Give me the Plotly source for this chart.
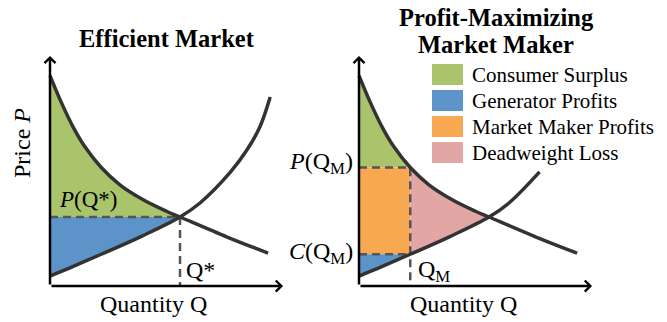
import plotly.graph_objects as go

# ---------------- data (arbitrary units) ----------------
demand_q = [0, 0.5, 1.0, 1.5, 2.2, 3.0, 4.0, 5.0, 5.58, 7.6, 9.36]
demand_p = [9.15, 7.95, 6.9, 6.05, 5.15, 4.4, 3.75, 3.25, 3.0, 2.13, 1.43]
supply_q = [0, 1.0, 2.2, 3.9, 5.58, 6.45, 7.75, 8.45, 9.0, 9.45]
supply_p = [0.43, 0.85, 1.38, 2.15, 3.0, 3.62, 4.96, 5.91, 6.9, 8.22]
q_star, p_star = 5.58, 3.0          # efficient equilibrium
q_m, p_m, c_m = 2.2, 5.15, 1.38     # market-maker quantity, price, cost
supply_end_right = 7.75             # supply curve is drawn shorter in the right panel
axis_max = 10

legend_labels = ["Consumer Surplus", "Generator Profits", "Market Maker Profits", "Deadweight Loss"]
legend_colors = ["#A9C46B", "#5C93C9", "#F9A852", "#E2A6A5"]
GREEN, BLUE, ORANGE, PINK = legend_colors

CURVE = "#333333"
DASH = "#555555"
FONT = "Liberation Serif, Times New Roman, serif"
W, H = 667, 322


def seg(qs, ps, lo, hi):
    pts = [(q, p) for q, p in zip(qs, ps) if lo <= q <= hi]
    return [a for a, _ in pts], [b for _, b in pts]


fig = go.Figure()


def fill(xs, ys, color, xa, ya):
    fig.add_trace(go.Scatter(x=xs, y=ys, fill="toself", fillcolor=color, mode="none",
                             xaxis=xa, yaxis=ya, showlegend=False, hoverinfo="skip"))


def line(xs, ys, xa, ya, color=CURVE, width=3.5, dash=None, shape="linear"):
    fig.add_trace(go.Scatter(x=xs, y=ys, mode="lines",
                             line=dict(color=color, width=width, dash=dash, shape=shape),
                             xaxis=xa, yaxis=ya, showlegend=False, hoverinfo="skip"))


# ---------------- left panel: efficient market ----------------
dq, dp = seg(demand_q, demand_p, 0, q_star)
fill([0] + dq, [p_star] + dp, GREEN, "x", "y")
sq, sp = seg(supply_q, supply_p, 0, q_star)
fill([0, q_star] + sq[::-1], [p_star, p_star] + sp[::-1], BLUE, "x", "y")
line([0, q_star, q_star], [p_star, p_star, 0], "x", "y", color=DASH, width=2.5, dash="8px,5px")
line(demand_q, demand_p, "x", "y", shape="spline")
line(supply_q, supply_p, "x", "y", shape="spline")

# ---------------- right panel: profit-maximizing market maker ----------------
dq, dp = seg(demand_q, demand_p, 0, q_m)
fill([0] + dq, [p_m] + dp, GREEN, "x2", "y2")
fill([0, 0, q_m, q_m], [c_m, p_m, p_m, c_m], ORANGE, "x2", "y2")
sq, sp = seg(supply_q, supply_p, 0, q_m)
fill([0, q_m] + sq[::-1], [c_m, c_m] + sp[::-1], BLUE, "x2", "y2")
dq2, dp2 = seg(demand_q, demand_p, q_m, q_star)
sq2, sp2 = seg(supply_q, supply_p, q_m, q_star)
fill(dq2 + sq2[::-1], dp2 + sp2[::-1], PINK, "x2", "y2")
line([0, q_m, q_m], [p_m, p_m, 0], "x2", "y2", color=DASH, width=2.5, dash="8px,5px")
line([0, q_m], [c_m, c_m], "x2", "y2", color=DASH, width=2.5, dash="8px,5px")
line(demand_q, demand_p, "x2", "y2", shape="spline")
sq3, sp3 = seg(supply_q, supply_p, 0, supply_end_right)
line(sq3, sp3, "x2", "y2", shape="spline")

# ---------------- layout ----------------
def px(x):
    return x / W


def py(y):
    return 1 - y / H


ax_common = dict(visible=False, fixedrange=True, range=[-0.5, 10.3])
fig.update_layout(
    width=W, height=H, autosize=False,
    margin=dict(l=0, r=0, t=0, b=0),
    paper_bgcolor="white", plot_bgcolor="white",
    font=dict(family=FONT, size=24, color="black"),
    xaxis=dict(ax_common, domain=[px(38.35), px(290)], anchor="y"),
    yaxis=dict(ax_common, domain=[py(297.5), py(49.1)], anchor="x"),
    xaxis2=dict(ax_common, domain=[px(347.35), px(599)], anchor="y2"),
    yaxis2=dict(ax_common, domain=[py(297.5), py(49.1)], anchor="x2"),
)

ann = []
# axes with arrows
for xr, yr in (("x", "y"), ("x2", "y2")):
    for (x, y) in ((axis_max, 0), (0, axis_max)):
        ann.append(dict(x=x, y=y, ax=0, ay=0, xref=xr, yref=yr, axref=xr, ayref=yr,
                        text="", showarrow=True, arrowhead=4, arrowsize=0.85,
                        arrowwidth=2.5, arrowcolor="black", standoff=0))


def txt(text, x, y, xanchor="center", size=24, bold=False, angle=0):
    ann.append(dict(text=("<b>%s</b>" % text) if bold else text, x=px(x), y=py(y),
                    xref="paper", yref="paper", xanchor=xanchor, yanchor="middle",
                    showarrow=False, textangle=angle,
                    font=dict(family=FONT, size=size, color="black")))


txt("Efficient Market", 167, 38, bold=True, size=24.5)
txt("Profit-Maximizing", 496, 17, bold=True, size=24.5)
txt("Market Maker", 496, 45, bold=True, size=24.5)
txt("Price <i>P</i>", 22, 143, angle=-90)
txt("Quantity Q", 153, 304)
txt("Quantity Q", 463, 304)
txt("<i>P</i>(Q*)", 57, 199, xanchor="left", size=23)
txt("Q*", 184, 270, xanchor="left")
txt("<i>P</i>(Q<sub>M</sub>)", 355, 163, xanchor="right")
txt("<i>C</i>(Q<sub>M</sub>)", 355, 253, xanchor="right")
txt("Q<sub>M</sub>", 416, 271, xanchor="left")

shapes = []
for i, (lab, col) in enumerate(zip(legend_labels, legend_colors)):
    top = 64 + i * 26
    shapes.append(dict(type="rect", xref="paper", yref="paper", x0=px(432), x1=px(463),
                       y0=py(top + 21), y1=py(top), fillcolor=col, line=dict(width=0)))
    txt(lab, 470, top + 11, xanchor="left", size=21)

fig.update_layout(annotations=ann, shapes=shapes)
fig.write_html("out.html", config={"displayModeBar": False},
               post_script="document.body.style.margin='0';")
